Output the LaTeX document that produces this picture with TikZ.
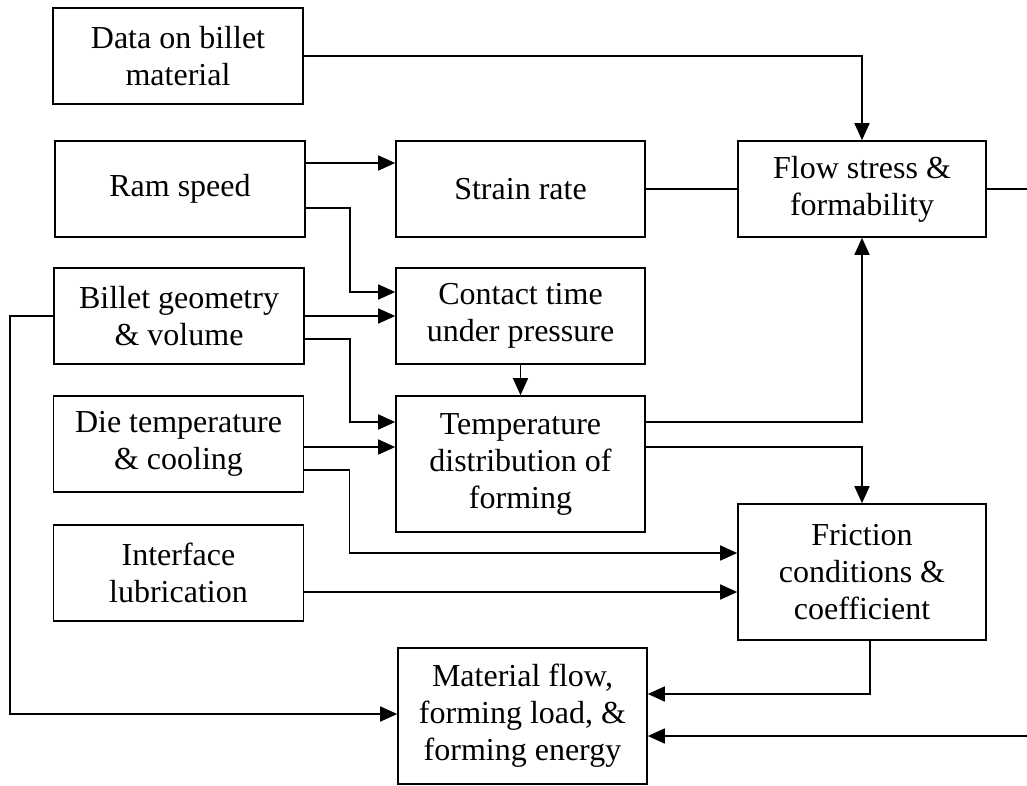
\documentclass[tikz,border=0pt]{standalone}
\usepackage{fontspec}
\setmainfont{Liberation Serif}
\usetikzlibrary{arrows.meta}
\begin{document}
\begin{tikzpicture}[x=1pt,y=-1pt,
  box/.style={draw,line width=1.6pt,align=center,inner sep=0pt,
    font=\fontsize{32}{37}\selectfont},
  sbox/.style={box,minimum width=250pt,minimum height=96pt},
  tbox/.style={box,minimum width=249pt,minimum height=136pt},
  link/.style={line width=1.6pt},
  arr/.style={link,-{Triangle[length=17pt,width=15pt]}}]
\useasboundingbox (0,0) rectangle (1027,785);

% inputs on the left
\node[sbox] (data)  at (178,56)    {Data on billet\\material};
\node[sbox] (ram)   at (180,189)   {Ram speed};
\node[sbox] (billet) at (179,316)  {Billet geometry\\\& volume};
\node[sbox] (die)   at (178.5,444) {Die temperature\\\& cooling};
\node[sbox] (iface) at (178.5,573) {Interface\\lubrication};

% middle column
\node[sbox,minimum width=249pt] (strain)  at (520.5,189) {Strain rate};
\node[sbox,minimum width=249pt] (contact) at (520.5,316) {Contact time\\under pressure};
\node[tbox] (temp) at (520.5,464) {Temperature\\distribution of\\forming};
\node[tbox] (mat)  at (522.5,716) {Material flow,\\forming load, \&\\forming energy};

% right column
\node[sbox,minimum width=248pt] (flow) at (862,189) {Flow stress \&\\formability};
\node[tbox,minimum width=248pt] (fric) at (862,572) {Friction\\conditions \&\\coefficient};

\coordinate (rr) at (1030,736);

% connectors
\draw[arr] (data.east) -| (flow.north);
\draw[arr] ([yshift=26pt]ram.east) -- ([yshift=26pt]strain.west);
\draw[arr] ([yshift=-19pt]ram.east) -- ++(44,0) |- ([yshift=24pt]contact.west);
\draw[arr] (billet.east) -- (contact.west);
\draw[arr] ([yshift=-23pt]billet.east) -- ++(45,0) |- ([yshift=42pt]temp.west);
\draw[arr] (billet.west) -- ++(-43,0) |- ([yshift=2pt]mat.west);
\draw[arr] (contact.south) -- (temp.north);
\draw[arr] ([yshift=-3pt]die.east) -- ([yshift=17pt]temp.west);
\draw[arr] ([yshift=-26pt]die.east) -- ++(45,0) |- ([yshift=19pt]fric.west);
\draw[arr] ([yshift=-19pt]iface.east) -- ([yshift=-20pt]fric.west);
\draw[link] (strain.east) -- (flow.west);
\draw[arr] (flow.east) -| (rr) -- ([yshift=-20pt]mat.east);
\draw[arr] ([yshift=42pt]temp.east) -| (flow.south);
\draw[arr] ([yshift=17pt]temp.east) -| (fric.north);
\draw[arr] ([xshift=8pt]fric.south) |- ([yshift=22pt]mat.east);
\end{tikzpicture}
\end{document}
